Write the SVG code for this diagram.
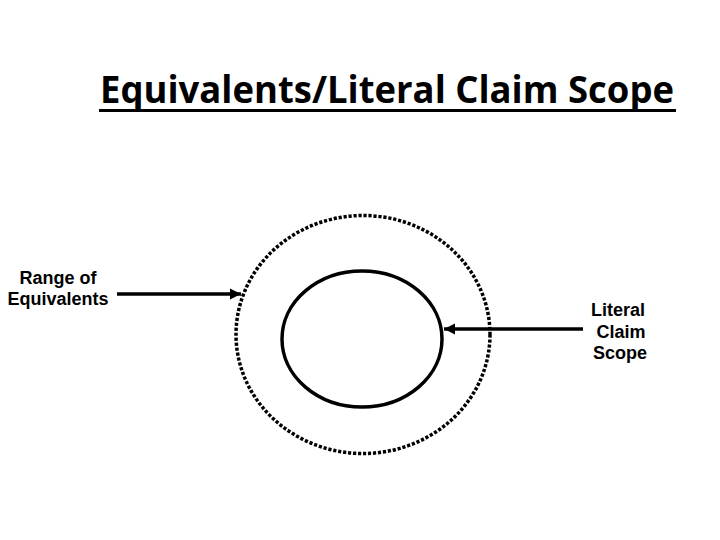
<svg xmlns="http://www.w3.org/2000/svg" width="720" height="540" viewBox="0 0 720 540">
  <defs>
    <marker id="ah" viewBox="0 0 10 10" refX="10" refY="5" markerWidth="3.2" markerHeight="3.2" orient="auto" markerUnits="strokeWidth">
      <path d="M0,0 L10,5 L0,10 z" fill="#000"/>
    </marker>
    <style>
      .lbl { font-family: "Liberation Sans", Arial, sans-serif; font-weight: bold; font-size: 18px; fill: #000; text-anchor: middle; }
      .title { font-family: "Open Sans", "Liberation Sans", sans-serif; font-weight: bold; font-size: 38px; fill: #000; }
      .conn { stroke: #000; stroke-width: 3.5; fill: none; marker-end: url(#ah); }
    </style>
  </defs>
  <rect width="720" height="540" fill="#fff"/>
  <g id="title">
    <text class="title" x="100" y="103" textLength="574" lengthAdjust="spacingAndGlyphs">Equivalents/Literal Claim Scope</text>
    <line x1="99" y1="110.5" x2="676" y2="110.5" stroke="#000" stroke-width="3"/>
  </g>
  <g id="range-of-equivalents">
    <ellipse cx="363" cy="334.5" rx="127" ry="119" fill="none" stroke="#000" stroke-width="3.5" stroke-dasharray="3.2 1.8"/>
  </g>
  <g id="literal-claim-scope">
    <ellipse cx="362" cy="339" rx="80" ry="68" fill="none" stroke="#000" stroke-width="3.5"/>
  </g>
  <g id="label-range">
    <text class="lbl" x="58" y="284">Range of</text>
    <text class="lbl" x="58" y="305">Equivalents</text>
  </g>
  <g id="label-literal">
    <text class="lbl" x="618" y="316">Literal</text>
    <text class="lbl" x="621" y="338">Claim</text>
    <text class="lbl" x="620" y="359">Scope</text>
  </g>
  <g id="connectors">
    <line class="conn" x1="117" y1="294" x2="241" y2="294"/>
    <line class="conn" x1="583" y1="329" x2="444" y2="329"/>
  </g>
</svg>
